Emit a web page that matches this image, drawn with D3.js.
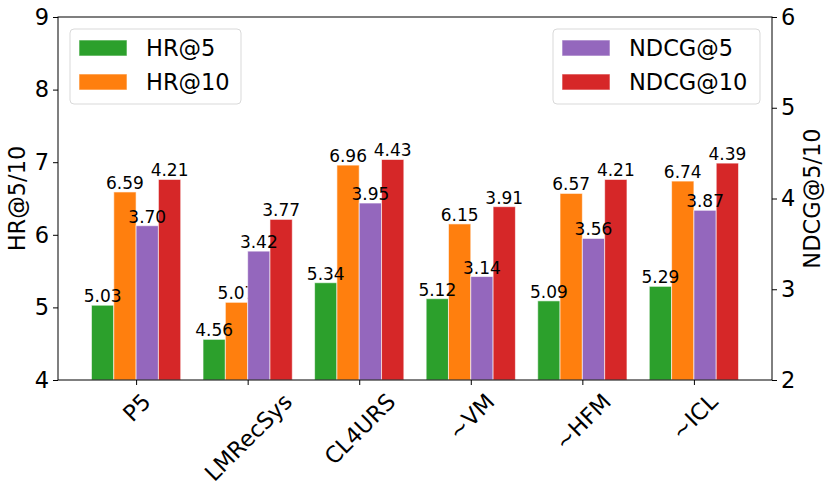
<!DOCTYPE html>
<html>
<head>
<meta charset="utf-8">
<script src="https://cdn.jsdelivr.net/npm/d3@7"></script>
<style>
  body { margin: 0; background: #fff; }
  text { font-family: "DejaVu Sans", sans-serif; }
</style>
</head>
<body>
<script>
// chart data
var methods = ["P5", "LMRecSys", "CL4URS", "~VM", "~HFM", "~ICL"];
var hr5    = [5.03, 4.56, 5.34, 5.12, 5.09, 5.29];
var hr10   = [6.59, 5.07, 6.96, 6.15, 6.57, 6.74];
var ndcg5  = [3.70, 3.42, 3.95, 3.14, 3.56, 3.87];
var ndcg10 = [4.21, 3.77, 4.43, 3.91, 4.21, 4.39];
var leftTicks  = [4, 5, 6, 7, 8, 9];
var rightTicks = [2, 3, 4, 5, 6];

var w = 831, h = 495;
// plot box (note: "top" is reserved on window, so prefix everything)
var pLeft = 58, pRight = 772, pTop = 17, pBottom = 380;

var svg = d3.select("body").append("svg")
  .attr("width", w)
  .attr("height", h);

var x = d3.scaleLinear().domain([-0.7, 5.7]).range([pLeft, pRight]);
var yL = d3.scaleLinear().domain([4, 9]).range([pBottom, pTop]);
var yR = d3.scaleLinear().domain([2, 6]).range([pBottom, pTop]);
var bw = 0.2;

// one entry per series: values, colour, offset, axis scale
var hrSeries = [
  { name: "HR@5",  vals: hr5,  color: "#2ca02c", off: -0.3, y: yL },
  { name: "HR@10", vals: hr10, color: "#ff7f0e", off: -0.1, y: yL }
];
var ndcgSeries = [
  { name: "NDCG@5",  vals: ndcg5,  color: "#9467bd", off: 0.1, y: yR },
  { name: "NDCG@10", vals: ndcg10, color: "#d62728", off: 0.3, y: yR }
];

function drawBars(series) {
  var g = svg.append("g");
  series.forEach(function(s) {
    g.selectAll(null)
      .data(s.vals)
      .enter()
      .append("rect")
      .attr("x", function(d, i) { return x(i + s.off - bw / 2); })
      .attr("width", x(bw) - x(0))
      .attr("y", function(d) { return s.y(d); })
      .attr("height", function(d) { return pBottom - s.y(d); })
      .attr("fill", s.color)
      .attr("stroke", "#fff")
      .attr("stroke-opacity", 0.6)
      .attr("stroke-width", 1);
  });
  series.forEach(function(s) {
    g.selectAll(null)
      .data(s.vals)
      .enter()
      .append("text")
      .attr("x", function(d, i) { return x(i + s.off); })
      .attr("y", function(d) { return s.y(d) - 3; })
      .attr("text-anchor", "middle")
      .attr("font-size", 17)
      .text(function(d) { return d.toFixed(2); });
  });
}

function drawLegend(series, lx, lw) {
  var g = svg.append("g");
  g.append("rect")
    .attr("x", lx).attr("y", 29)
    .attr("width", lw).attr("height", 75)
    .attr("rx", 4)
    .attr("fill", "#fff").attr("fill-opacity", 0.8)
    .attr("stroke", "#d9d9d9");
  series.forEach(function(s, i) {
    var cy = 48 + i * 34;
    g.append("rect")
      .attr("x", lx + 9).attr("y", cy - 8)
      .attr("width", 48).attr("height", 16)
      .attr("fill", s.color)
      .attr("stroke", "#fff").attr("stroke-opacity", 0.6);
    g.append("text")
      .attr("x", lx + 76).attr("y", cy + 8)
      .attr("font-size", 22.5)
      .text(s.name);
  });
}

// left axes layer
drawBars(hrSeries);
drawLegend(hrSeries, 70, 171);
// twin axes layer drawn on top
drawBars(ndcgSeries);
drawLegend(ndcgSeries, 553, 207);

// axes
var axL = d3.axisLeft(yL).tickValues(leftTicks).tickSize(5).tickPadding(4).tickFormat(d3.format("d"));
var axR = d3.axisRight(yR).tickValues(rightTicks).tickSize(5).tickPadding(4).tickFormat(d3.format("d"));
var axB = d3.axisBottom(x).tickValues(d3.range(methods.length)).tickSize(5).tickFormat(function(d) { return methods[d]; });

function styleAxis(g) {
  g.selectAll("text").attr("font-size", 22.5).attr("fill", "#000").style("font-family", "DejaVu Sans, sans-serif");
  g.selectAll("line").attr("stroke", "#000").attr("stroke-width", 1);
  g.select(".domain").remove();
}

svg.append("g").attr("transform", "translate(" + pLeft + ",0)").call(axL).call(styleAxis);
svg.append("g").attr("transform", "translate(" + pRight + ",0)").call(axR).call(styleAxis);

var gb = svg.append("g").attr("transform", "translate(0," + pBottom + ")").call(axB).call(styleAxis);
// rotate x labels 45deg, rotated box centred under the tick
gb.selectAll(".tick text").each(function() {
  var t = d3.select(this);
  var tw = this.getComputedTextLength();
  var th = 22.5 * 0.95;
  var bh = (tw + th) * Math.SQRT1_2;
  t.attr("x", 0).attr("y", 0).attr("dy", null)
    .attr("text-anchor", "middle")
    .attr("dominant-baseline", "central")
    .attr("transform", "translate(0," + (10 + bh / 2) + ") rotate(-45)");
});

// frame
svg.append("rect")
  .attr("x", pLeft).attr("y", pTop)
  .attr("width", pRight - pLeft).attr("height", pBottom - pTop)
  .attr("fill", "none").attr("stroke", "#000").attr("stroke-width", 1);

// axis titles
svg.append("text")
  .attr("transform", "translate(17," + (pTop + pBottom) / 2 + ") rotate(-90)")
  .attr("text-anchor", "middle").attr("dominant-baseline", "central")
  .attr("font-size", 22.5)
  .text("HR@5/10");
svg.append("text")
  .attr("transform", "translate(812," + (pTop + pBottom) / 2 + ") rotate(-90)")
  .attr("text-anchor", "middle").attr("dominant-baseline", "central")
  .attr("font-size", 22.5)
  .text("NDCG@5/10");
</script>
</body>
</html>
